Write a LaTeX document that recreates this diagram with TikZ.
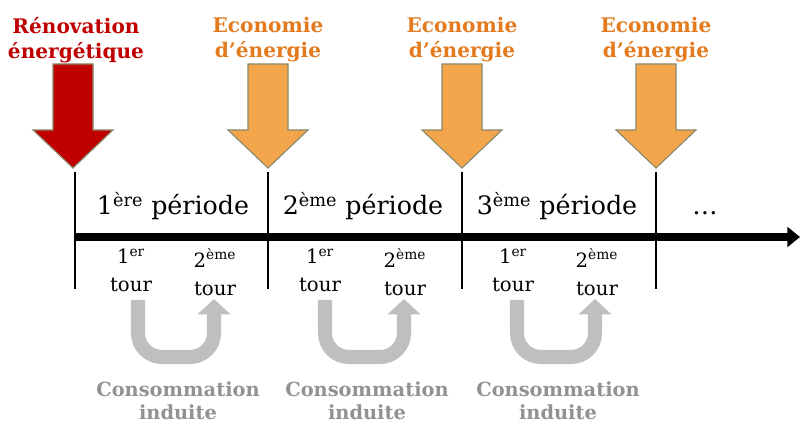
\documentclass[tikz,border=0pt]{standalone}
\usepackage{fontspec}
\setmainfont{DejaVu Serif}
\usepackage{tikz}
\usetikzlibrary{arrows.meta}
\definecolor{reno}{HTML}{C00000}
\definecolor{eco}{HTML}{F2A54A}
\definecolor{ecoink}{HTML}{E37A1D}
\definecolor{rim}{HTML}{8A8A6C}
\definecolor{loopgray}{HTML}{BFBFBF}
\definecolor{consoink}{HTML}{929292}
\tikzset{
  headline/.style={font=\fontsize{14.3}{18}\selectfont\bfseries, align=center, anchor=north},
  period/.style={font=\fontsize{18}{20}\selectfont, anchor=base},
  tour/.style={font=\fontsize{14}{20}\selectfont, align=center, anchor=north},
  conso/.style={font=\fontsize{13.8}{16.5}\selectfont\bfseries, text=consoink, align=center,
    anchor=north, inner sep=0pt},
  tick/.style={line width=1.3pt},
  timeaxis/.style={line width=5.5pt, -{Triangle[length=9pt,width=14pt]}},
  induced/.style={draw=loopgray, line width=10pt, rounded corners=17pt,
    -{Triangle[length=11pt,width=23pt]}},
  drop/.style={draw=rim, line width=0.8pt},
  pics/drop/.style={code={
    \path[pic actions] (-20,0) -- (20,0) -- (20,66) -- (40,66) -- (0,104)
      -- (-40,66) -- (-20,66) -- cycle;}},
}
\begin{document}
\begin{tikzpicture}[x=0.025cm, y=-0.025cm]
  \useasboundingbox (0,0) rectangle (800,425);

  % what happens at each step
  \node[headline, text=reno] (h0) at (76,12) {Rénovation\\énergétique};
  \node[headline, text=ecoink] (h1) at (268,12) {Economie\\d’énergie};
  \node[headline, text=ecoink] (h2) at (462,12) {Economie\\d’énergie};
  \node[headline, text=ecoink] (h3) at (656,12) {Economie\\d’énergie};

  \pic[drop, fill=reno] at (73,64) {drop};
  \pic[drop, fill=eco] at (268,64) {drop};
  \pic[drop, fill=eco] at (462,64) {drop};
  \pic[drop, fill=eco] at (656,64) {drop};

  % time line
  \coordinate (t0) at (75,237);
  \coordinate (tend) at (800,237);
  \draw[timeaxis] (t0) -- (tend);
  \draw[tick] (75,172) -- (75,289);
  \draw[tick] (268,172) -- (268,289);
  \draw[tick] (462,172) -- (462,289);
  \draw[tick] (656,172) -- (656,289);

  \node[period] (p1) at (173,215) {1\textsuperscript{ère} période};
  \node[period] (p2) at (363,215) {2\textsuperscript{ème} période};
  \node[period] (p3) at (557,215) {3\textsuperscript{ème} période};
  \node[period] (p4) at (705,215) {\ldots};

  % rounds
  \node[tour] (t11) at (131,244) {1\textsuperscript{er}\\tour};
  \node[tour] (t12) at (215,244) {2\textsuperscript{ème}\\tour};
  \node[tour] (t21) at (320,244) {1\textsuperscript{er}\\tour};
  \node[tour] (t22) at (405,244) {2\textsuperscript{ème}\\tour};
  \node[tour] (t31) at (513,244) {1\textsuperscript{er}\\tour};
  \node[tour] (t32) at (597,244) {2\textsuperscript{ème}\\tour};

  % rebound loops
  \coordinate (u1a) at (138,300); \coordinate (u1b) at (214,299);
  \coordinate (u2a) at (325,300); \coordinate (u2b) at (404,299);
  \coordinate (u3a) at (517,300); \coordinate (u3b) at (595,299);
  \draw[induced] (u1a) -- ++(0,57) -| (u1b);
  \draw[induced] (u2a) -- ++(0,57) -| (u2b);
  \draw[induced] (u3a) -- ++(0,57) -| (u3b);

  \node[conso] (c1) at (178,381) {Consommation\\induite};
  \node[conso] (c2) at (367,381) {Consommation\\induite};
  \node[conso] (c3) at (558,381) {Consommation\\induite};
\end{tikzpicture}
\end{document}
